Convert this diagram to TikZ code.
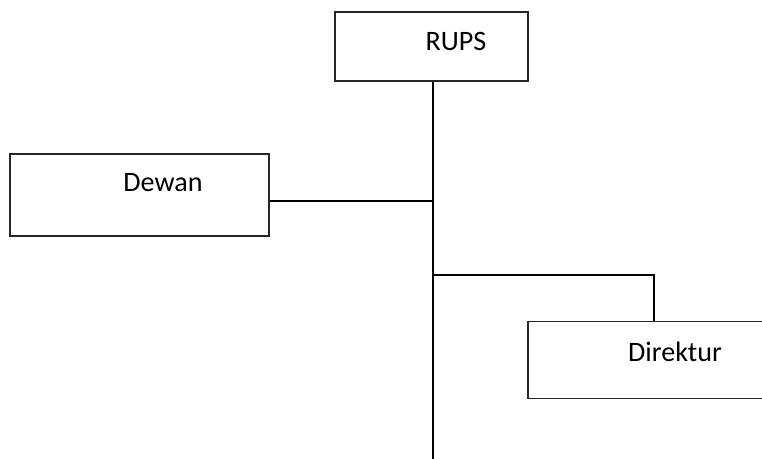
\documentclass[tikz,border=0pt]{standalone}
\usepackage{fontspec}
\setmainfont{Carlito}
\usetikzlibrary{positioning}

\begin{document}
\begin{tikzpicture}[
                x=0.02cm, y=-0.02cm,
                box/.style={draw=black!85, line width=0.8pt, inner sep=0pt},
                lbl/.style={font=\fontsize{16}{19}\selectfont, inner sep=0pt},
                conn/.style={line width=1.1pt, black}
            ]
                \useasboundingbox (0,0) rectangle (762,459);
                \clip (0,0) rectangle (762,459);
                \node[box, minimum width=3.86cm, minimum height=1.38cm,
                      label={[lbl, xshift=0.49cm, yshift=0.11cm]center:RUPS}]
                      (rups) at (431.5,46.5) {};
                \node[box, minimum width=5.18cm, minimum height=1.64cm,
                      label={[lbl, xshift=0.47cm, yshift=0.24cm]center:Dewan}]
                      (dewan) at (139.5,195) {};
                \node[box, minimum width=5.04cm, minimum height=1.54cm,
                      label={[lbl, xshift=0.42cm, yshift=0.16cm]center:Direktur}]
                      (direktur) at (654,360) {};
                % junctions on the main line
                \coordinate (j1) at (433,201);
                \coordinate (j2) at (433,275);
                \coordinate (bot) at (433,462);
                \draw[conn] (rups.south -| j1) -- (bot);
                \draw[conn] (dewan.east |- j1) -- (j1);
                \draw[conn] (j2) -| (direktur.north);
            \end{tikzpicture}
\end{document}
